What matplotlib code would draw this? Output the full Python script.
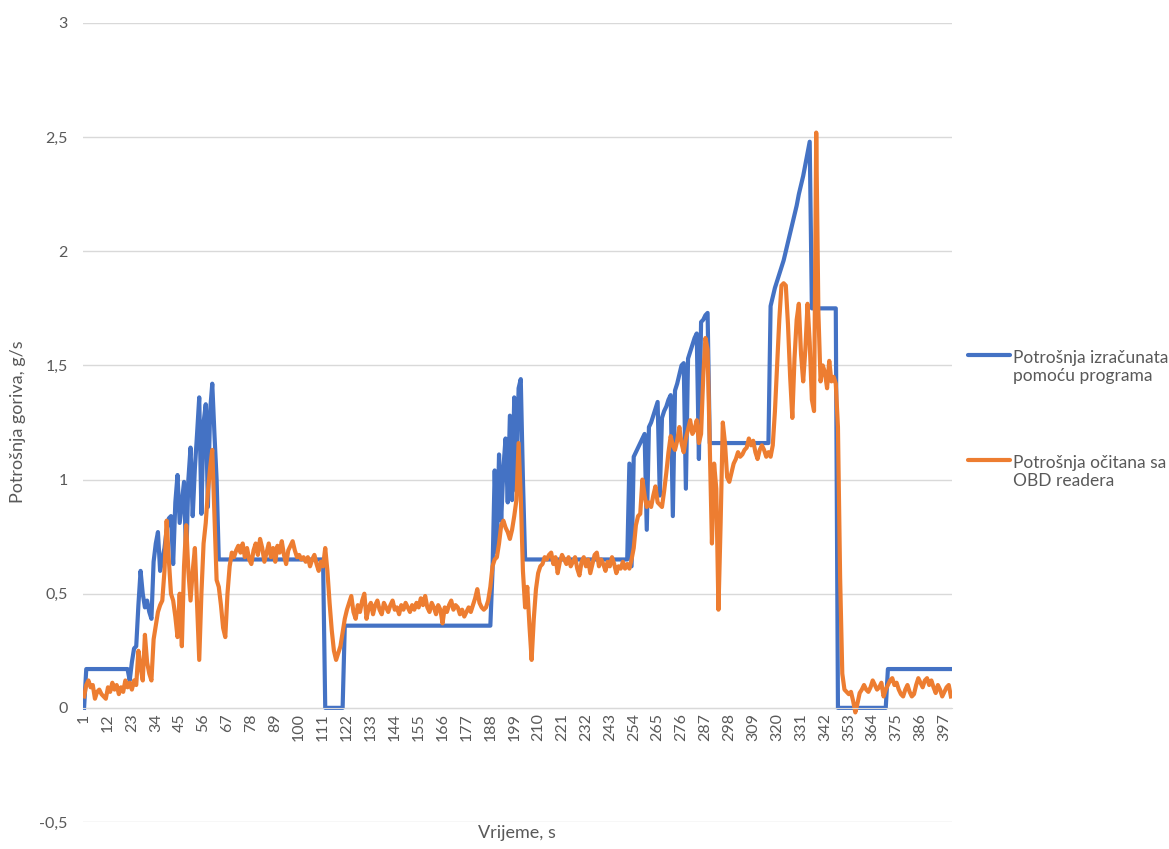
import matplotlib
matplotlib.use("Agg")
import matplotlib.pyplot as plt
from matplotlib.lines import Line2D

plt.rcParams['font.family'] = ['Lato', 'DejaVu Sans']

# --------------------------------------------------------
# Data (one value per second)
# --------------------------------------------------------
label_prog = "Potrošnja izračunata\npomoću programa"
label_obd = "Potrošnja očitana sa\nOBD readera"

# computed consumption, g/s (long flat stretches written as runs)
prog = (
    [0.0]
    + [0.17] * 20
    + [0.12, 0.2, 0.26, 0.27, 0.45, 0.6, 0.5, 0.44, 0.47, 0.42,
       0.39, 0.64, 0.72, 0.77, 0.6, 0.65, 0.7, 0.78, 0.83, 0.84,
       0.63, 0.9, 1.02, 0.81, 0.9, 0.99, 0.64, 1.0, 1.14, 0.84,
       1.05, 1.2, 1.36, 0.85, 1.25, 1.33, 0.88, 1.3, 1.42, 1.2,
       1.0]
    + [0.65] * 49
    + [0.0] * 9
    + [0.36] * 68
    + [0.6, 1.04, 0.68, 1.11, 0.82, 1.05, 1.18, 0.9, 1.28, 0.91,
       1.36, 0.95, 1.4, 1.44, 1.0]
    + [0.65] * 48
    + [1.07, 0.62, 1.1, 1.12, 1.14, 1.16, 1.18, 1.2, 0.78, 1.23,
       1.25, 1.28, 1.31, 1.34, 0.93, 1.27, 1.3, 1.32, 1.35, 1.37,
       0.84, 1.39, 1.42, 1.46, 1.5, 1.51, 0.96, 1.53, 1.56, 1.59,
       1.62, 1.64, 1.09, 1.69, 1.7, 1.72, 1.73]
    + [1.16] * 28
    + [1.76, 1.8, 1.84, 1.87, 1.9, 1.93, 1.96, 2.0, 2.04, 2.08,
       2.12, 2.16, 2.2, 2.25, 2.29, 2.33, 2.38, 2.43, 2.48]
    + [1.75] * 12
    + [0.0] * 23
    + [0.17] * 30
)

# consumption read from the OBD reader, g/s
obd = [
    0.05, 0.1, 0.12, 0.09, 0.1, 0.04, 0.07, 0.08, 0.06, 0.05,
    0.04, 0.09, 0.07, 0.11, 0.08, 0.1, 0.06, 0.09, 0.07, 0.12,
    0.09, 0.11, 0.08, 0.12, 0.1, 0.25, 0.18, 0.12, 0.32, 0.2,
    0.15, 0.12, 0.3, 0.36, 0.42, 0.45, 0.47, 0.6, 0.82, 0.65,
    0.5, 0.47, 0.4, 0.31, 0.5, 0.27, 0.62, 0.8, 0.6, 0.47,
    0.6, 0.7, 0.45, 0.21, 0.5, 0.72, 0.81, 0.95, 1.05, 1.13,
    0.85, 0.56, 0.53, 0.45, 0.35, 0.31, 0.5, 0.62, 0.68, 0.66,
    0.69, 0.71, 0.68, 0.72, 0.66, 0.7, 0.65, 0.63, 0.69, 0.72,
    0.67, 0.74, 0.7, 0.64, 0.68, 0.72, 0.66, 0.7, 0.64, 0.71,
    0.68, 0.73, 0.67, 0.63, 0.69, 0.71, 0.73, 0.69, 0.66, 0.67,
    0.65, 0.66, 0.64, 0.66, 0.62, 0.65, 0.67, 0.63, 0.6, 0.64,
    0.62, 0.7, 0.6, 0.46, 0.34, 0.25, 0.21, 0.24, 0.27, 0.33,
    0.39, 0.43, 0.46, 0.49, 0.42, 0.39, 0.45, 0.42, 0.47, 0.5,
    0.39, 0.44, 0.46, 0.41, 0.45, 0.47, 0.43, 0.41, 0.46, 0.44,
    0.42, 0.45, 0.47, 0.43, 0.44, 0.41, 0.45, 0.43, 0.46, 0.44,
    0.42, 0.45, 0.43, 0.46, 0.44, 0.48, 0.45, 0.49, 0.44, 0.42,
    0.46, 0.44, 0.41, 0.45, 0.43, 0.37, 0.44, 0.42, 0.45, 0.47,
    0.43, 0.45, 0.44, 0.41, 0.43, 0.4, 0.42, 0.44, 0.42, 0.45,
    0.48, 0.52, 0.46, 0.44, 0.43, 0.44, 0.47, 0.53, 0.62, 0.65,
    0.66, 0.72, 0.8, 0.82, 0.79, 0.77, 0.74, 0.78, 0.84, 0.91,
    1.16, 0.93, 0.6, 0.44, 0.53, 0.36, 0.21, 0.39, 0.52, 0.59,
    0.62, 0.63, 0.66, 0.65, 0.67, 0.68, 0.63, 0.66, 0.59, 0.64,
    0.67, 0.65, 0.63, 0.66, 0.62, 0.64, 0.66, 0.61, 0.58, 0.64,
    0.66, 0.62, 0.65, 0.59, 0.63, 0.67, 0.68, 0.62, 0.65, 0.63,
    0.6, 0.64, 0.62, 0.66, 0.63, 0.59, 0.62, 0.61, 0.64, 0.61,
    0.63, 0.61, 0.65, 0.7, 0.8, 0.84, 0.85, 1.0, 0.93, 0.88,
    0.9, 0.88, 0.93, 0.97, 0.9, 0.89, 0.88, 0.95, 1.03, 1.12,
    1.19, 1.15, 1.13, 1.17, 1.23, 1.16, 1.12, 1.18, 1.22, 1.26,
    1.2, 1.22, 1.26, 1.16, 1.2, 1.45, 1.62, 1.57, 1.15, 0.72,
    1.07, 0.96, 0.43, 0.81, 1.25, 1.16, 1.01, 0.99, 1.03, 1.07,
    1.09, 1.12, 1.1, 1.11, 1.13, 1.14, 1.18, 1.15, 1.17, 1.12,
    1.09, 1.13, 1.15, 1.13, 1.1, 1.12, 1.1, 1.15, 1.3, 1.5,
    1.7, 1.85, 1.86, 1.85, 1.68, 1.45, 1.27, 1.53, 1.7, 1.77,
    1.55, 1.43, 1.57, 1.77, 1.6, 1.35, 1.3, 2.52, 1.73, 1.43,
    1.5, 1.47, 1.4, 1.52, 1.43, 1.45, 1.42, 1.23, 0.57, 0.15,
    0.08, 0.07, 0.06, 0.07, 0.03, -0.02, 0.02, 0.065, 0.08, 0.1,
    0.08, 0.07, 0.09, 0.12, 0.1, 0.08, 0.09, 0.11, 0.05, 0.08,
    0.1, 0.12, 0.13, 0.1, 0.11, 0.08, 0.06, 0.05, 0.08, 0.1,
    0.07, 0.05, 0.06, 0.1, 0.13, 0.11, 0.09, 0.12, 0.13, 0.1,
    0.12, 0.09, 0.065, 0.1, 0.08, 0.05, 0.07, 0.09, 0.1, 0.05,
]

seconds = list(range(1, len(prog) + 1))
x_tick_pos = list(range(1, len(prog), 11))          # 1, 12, 23 ... 397
y_ticks = [-0.5, 0, 0.5, 1, 1.5, 2, 2.5, 3]
y_tick_labels = ["-0,5", "0", "0,5", "1", "1,5", "2", "2,5", "3"]

BLUE = "#4472C4"
ORANGE = "#ED7D31"
GRID = "#d9d9d9"
TEXT = "#595959"
W, H = 1169, 849

# --------------------------------------------------------
# Plot
# --------------------------------------------------------
fig = plt.figure(figsize=(W / 100, H / 100), dpi=100)
ax = fig.add_axes([83 / W, 27 / H, 869 / W, 799 / H])

ax.plot(seconds, prog, color=BLUE, lw=3, solid_joinstyle="round")
ax.plot(seconds, obd, color=ORANGE, lw=3, solid_joinstyle="round")

ax.set_xlim(0.5, len(prog) + 0.5)
ax.set_ylim(-0.5, 3)
ax.set_yticks(y_ticks)
ax.set_yticklabels(y_tick_labels)
ax.set_xticks(x_tick_pos)
ax.set_xticklabels([str(p) for p in x_tick_pos])

ax.grid(axis="y", color=GRID, lw=1)
ax.set_axisbelow(True)
for side in ["top", "right", "left"]:
    ax.spines[side].set_visible(False)
ax.spines["bottom"].set_position(("data", 0))
ax.spines["bottom"].set_color(GRID)

ax.tick_params(axis="both", length=0, colors=TEXT, labelsize=11.5)
ax.tick_params(axis="y", pad=11)
ax.tick_params(axis="x", pad=4, labelrotation=90)

fig.text(18 / W, 1 - 422 / H, "Potrošnja goriva, g/s", rotation=90,
         ha="center", va="center", color=TEXT, fontsize=13)
fig.text(517 / W, 1 - 833 / H, "Vrijeme, s", ha="center", va="center",
         color=TEXT, fontsize=13)

# legend on the right, line sample level with the first text row
for color, label, ly in [(BLUE, label_prog, 355), (ORANGE, label_obd, 460)]:
    fig.add_artist(Line2D([968 / W, 1010 / W], [1 - ly / H] * 2,
                          color=color, lw=3, solid_capstyle="round"))
    fig.text(1013 / W, 1 - (ly + 12) / H, label, ha="left", va="center",
             color=TEXT, fontsize=12.5, linespacing=1.2)

fig.savefig("out.png", dpi=100)
